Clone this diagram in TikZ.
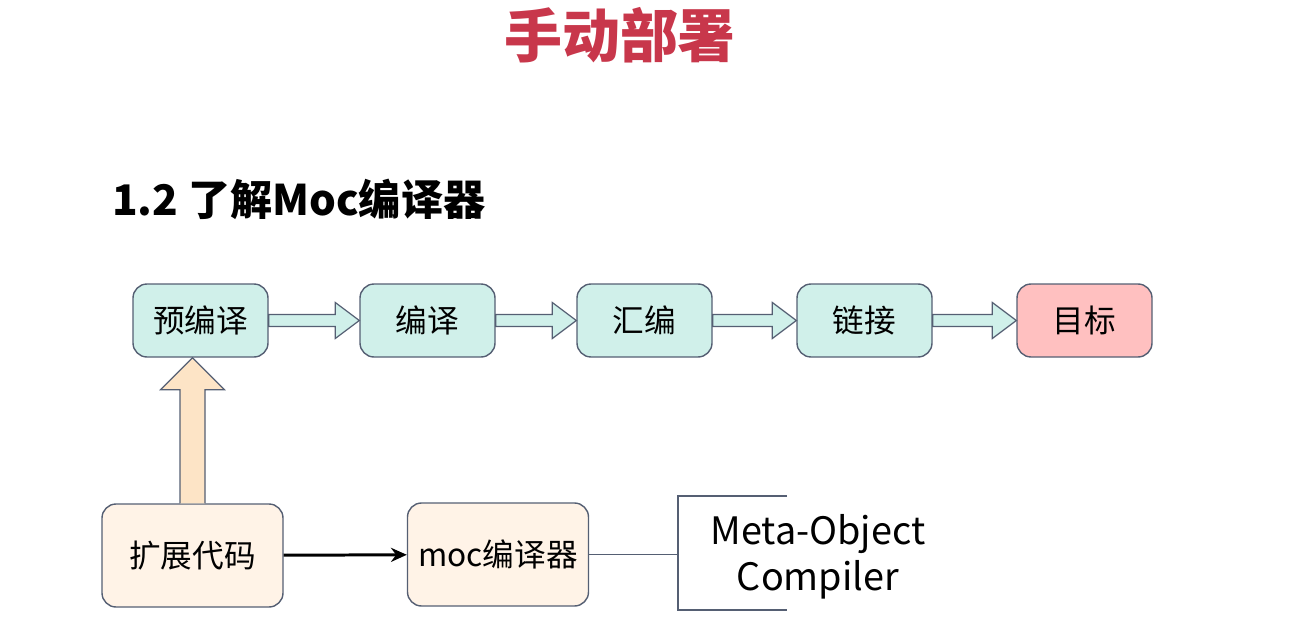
\documentclass[tikz,border=0pt]{standalone}
\usepackage{fontspec}
\setmainfont{Noto Sans CJK SC}
\usetikzlibrary{calc,arrows.meta}

\definecolor{edgegray}{RGB}{85,95,115}
\definecolor{mint}{RGB}{208,240,234}
\definecolor{rosy}{RGB}{255,192,192}
\definecolor{cream}{RGB}{255,243,231}
\definecolor{apricot}{RGB}{253,228,198}
\definecolor{titlered}{RGB}{200,55,75}

\tikzset{
  stagebox/.style={draw=edgegray,line width=0.8pt,rounded corners=8pt,fill=mint,
    minimum width=135*0.02cm,minimum height=73*0.02cm,
    font=\fontsize{18}{22}\selectfont},
  srcbox/.style={stagebox,fill=cream,minimum width=181*0.02cm,minimum height=103*0.02cm},
  flowline/.style={draw=edgegray,line width=0.7pt,fill=mint,line join=miter},
}

\begin{document}
\begin{tikzpicture}[x=0.02cm,y=-0.02cm]
  \def\flowarrow#1#2{%
    \draw[flowline]
      ($(#1.east)+(0,-6)$) -- ($(#2.west)+(-24,-6)$) -- ($(#2.west)+(-24,-18)$)
      -- (#2.west) -- ($(#2.west)+(-24,18)$) -- ($(#2.west)+(-24,6)$)
      -- ($(#1.east)+(0,6)$) -- cycle;%
  }
\useasboundingbox (0,0) rectangle (1293,638);

\node[text=titlered,font=\fontsize{33}{36}\selectfont\bfseries] (title) at (620,35) {手动部署};
\node[anchor=west,font=\fontsize{24}{28}\selectfont\bfseries] (subtitle) at (106,199) {1.2 了解Moc编译器};

% top row
\node[stagebox] (pre) at (200.5,320.5) {预编译};
\node[stagebox] (comp) at (427.5,320.5) {编译};
\node[stagebox] (asm) at (644.5,320.5) {汇编};
\node[stagebox] (link) at (864.5,320.5) {链接};
\node[stagebox,fill=rosy] (target) at (1084.5,320.5) {目标};

\flowarrow{pre}{comp}
\flowarrow{comp}{asm}
\flowarrow{asm}{link}
\flowarrow{link}{target}

% bottom row
\node[srcbox] (ext) at (192.5,555.5) {扩展代码};
\node[srcbox] (moc) at (498,554.5) {moc编译器};

\coordinate (uptip) at (ext.north |- pre.south);
\draw[flowline,fill=apricot]
  ($(ext.north)+(-12.5,0)$) -- ($(uptip)+(-12.5,32)$) -- ($(uptip)+(-32,32)$)
  -- (uptip) -- ($(uptip)+(32,32)$) -- ($(uptip)+(12.5,32)$)
  -- ($(ext.north)+(12.5,0)$);

\draw[line width=1.7pt,-{Stealth[length=9pt,width=8pt]}] (ext) -- (moc);

% note bracket
\coordinate (brtop) at (678,496);
\coordinate (brbot) at (678,610);
\draw[edgegray,line width=0.7pt] (moc.east) -- (moc.east -| brtop);
\draw[edgegray,line width=0.7pt] ($(brtop)+(109,0)$) -- (brtop) -- (brbot) -- ($(brbot)+(109,0)$);
\node[font=\fontsize{21.5}{26.5}\selectfont,align=center] (mocnote) at (818,557) {Meta-Object\\Compiler};

\end{tikzpicture}
\end{document}
